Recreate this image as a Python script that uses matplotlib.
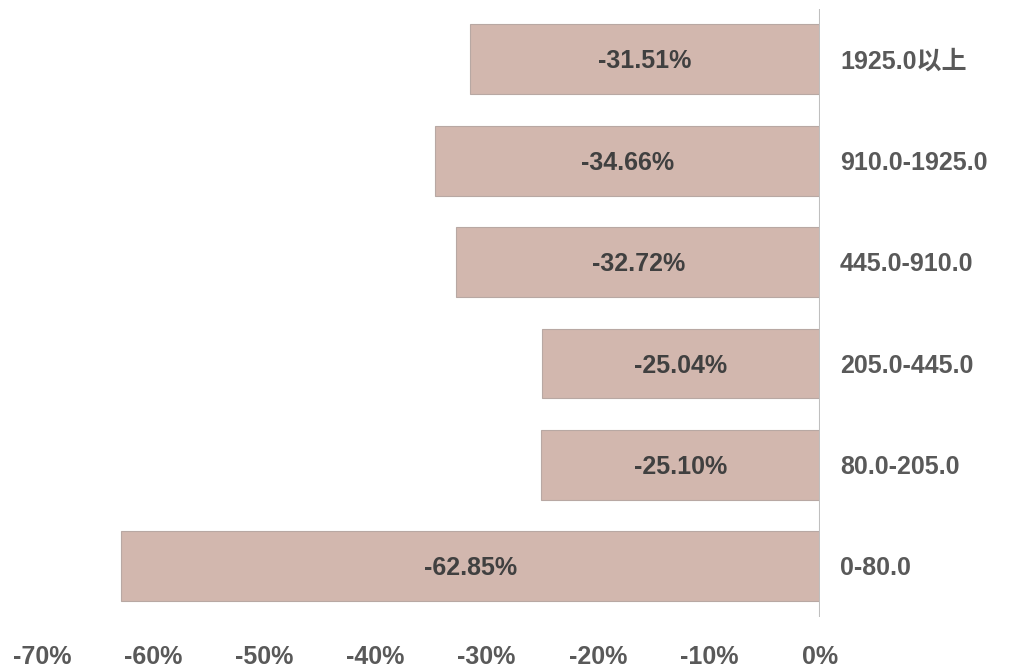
#!/usr/bin/env python3
"""Horizontal bar chart of percentage change by price band."""

import matplotlib

matplotlib.use("Agg")
import matplotlib.pyplot as plt
from matplotlib.ticker import FuncFormatter

categories = ["0-80.0", "80.0-205.0", "205.0-445.0", "445.0-910.0", "910.0-1925.0", "1925.0以上"]
values = [-62.85, -25.10, -25.04, -32.72, -34.66, -31.51]
xticks = [-70, -60, -50, -40, -30, -20, -10, 0]

FONTS = ["Liberation Sans", "Noto Sans CJK SC", "DejaVu Sans"]
TEXT_COLOR = "#595959"

fig = plt.figure(figsize=(10.1, 6.67), dpi=100)
ax = fig.add_axes([0.0416, 0.075, 0.7703, 0.912])

ypos = range(len(categories))
ax.barh(ypos, values, height=0.69, color="#d2b7ae", edgecolor="#b8a8a3", linewidth=0.8)

for y, v, cat in zip(ypos, values, categories):
    ax.text(v / 2, y - 0.02, f"{v:.2f}%", ha="center", va="center", fontsize=18,
            fontweight="bold", color="#404040", family=FONTS)
    ax.text(1.8, y - 0.02, cat, ha="left", va="center", fontsize=18,
            fontweight="bold", color=TEXT_COLOR, family=FONTS, clip_on=False)

ax.set_xlim(-70, 0)
ax.set_ylim(-0.5, len(categories) - 0.5)
ax.axvline(0, color="#bfbfbf", linewidth=1.5)

ax.set_xticks(xticks)
ax.xaxis.set_major_formatter(FuncFormatter(lambda x, _: f"{x:.0f}%"))
ax.tick_params(axis="x", length=0, pad=20, labelsize=18, colors=TEXT_COLOR)
for lbl in ax.get_xticklabels():
    lbl.set_fontweight("bold")
    lbl.set_family(FONTS)
ax.set_yticks([])
for side in ("top", "right", "left", "bottom"):
    ax.spines[side].set_visible(False)

fig.savefig("out.png", dpi=100)
